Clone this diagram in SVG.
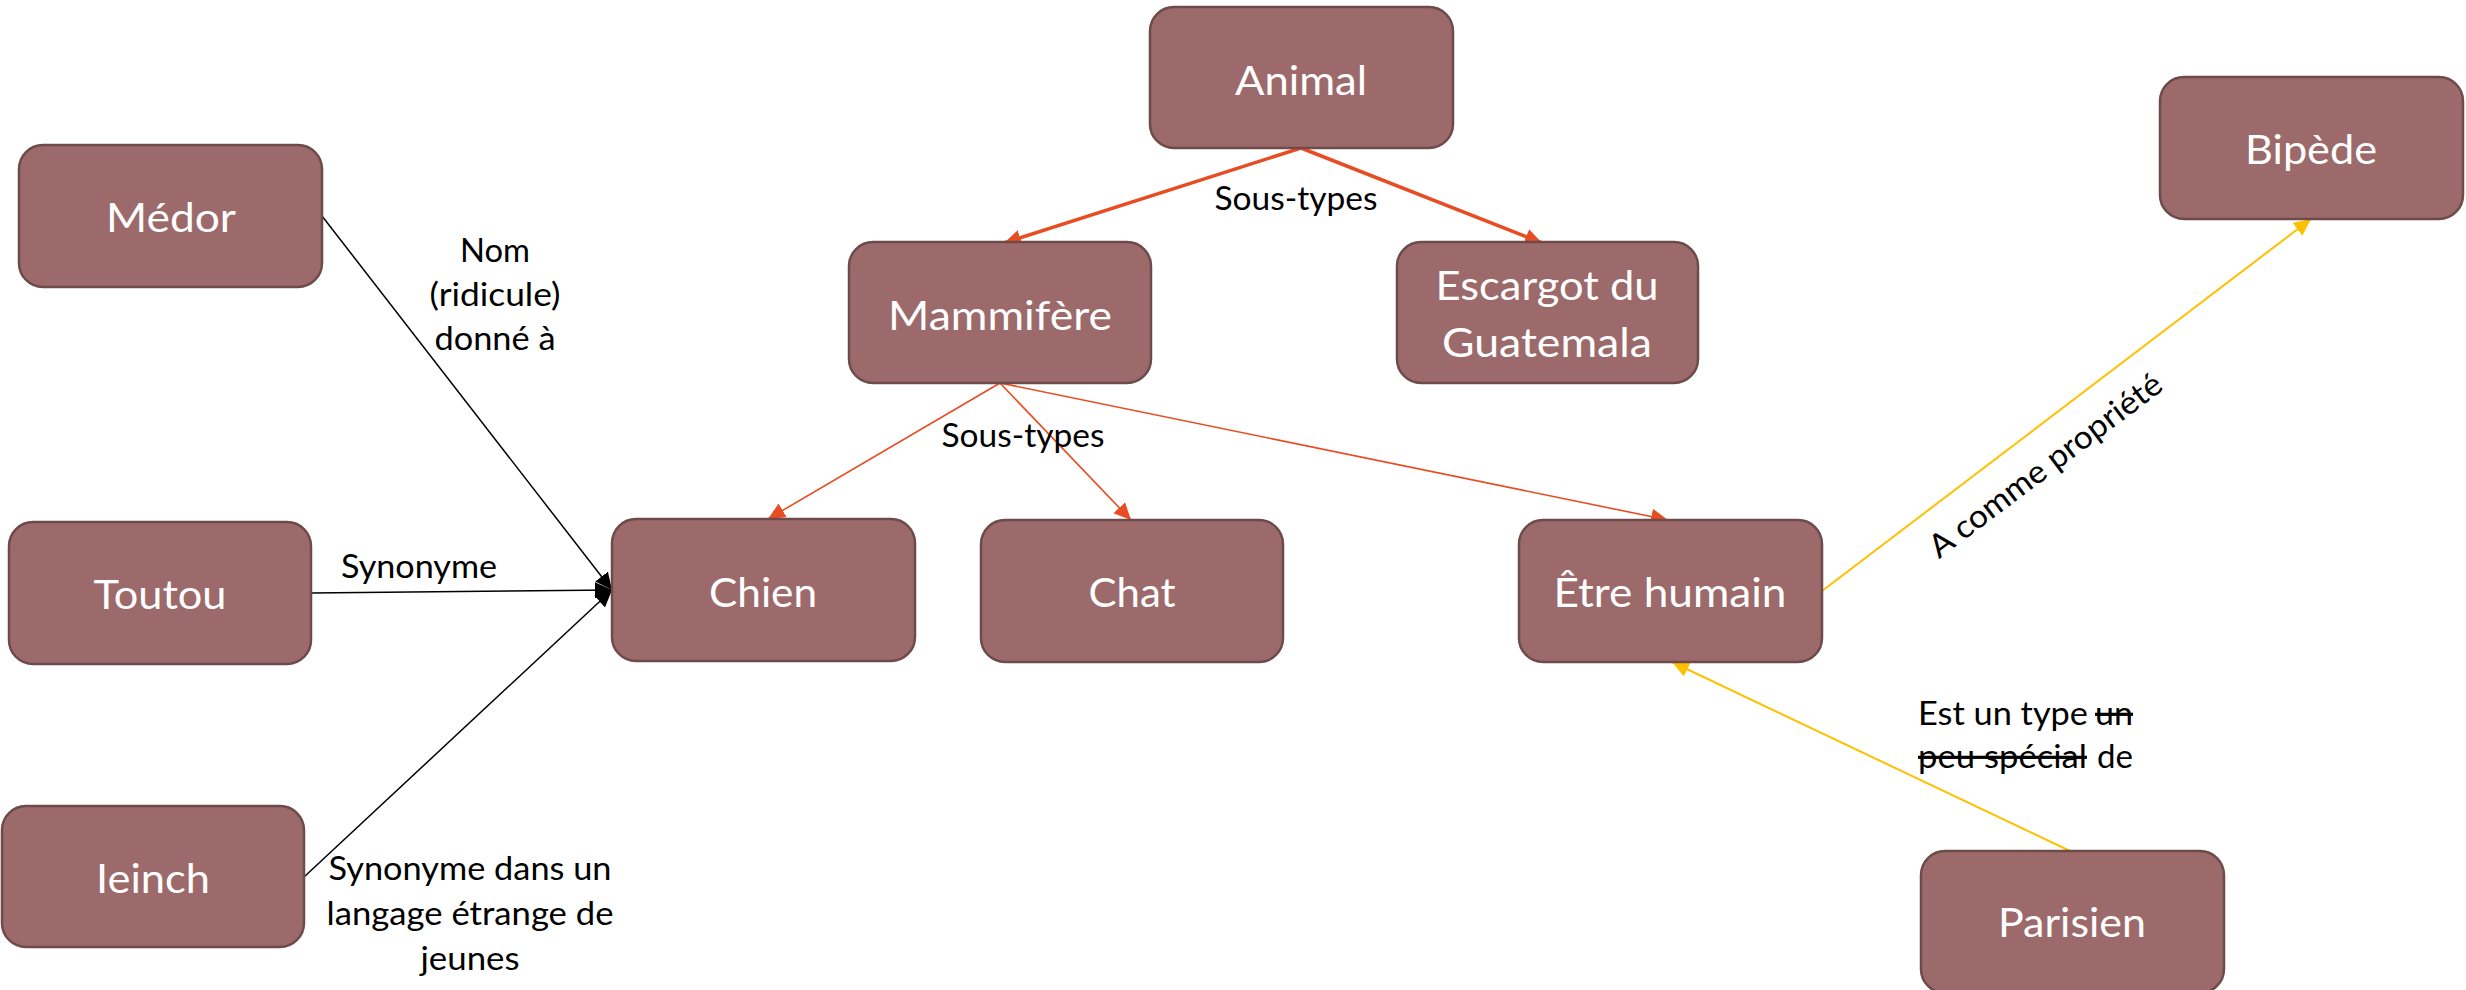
<svg xmlns="http://www.w3.org/2000/svg" width="2466" height="990" viewBox="0 0 2466 990">
<style>
.box{fill:#9C6A6A;stroke:#6E4B4B;stroke-width:2.5}
.nt{font-family:Lato,"Liberation Sans",sans-serif;font-size:41px;fill:#FFFFFF;text-anchor:middle}
.lb{font-family:Lato,"Liberation Sans",sans-serif;font-size:32px;fill:#000000;text-anchor:middle}
.ls{font-family:Lato,"Liberation Sans",sans-serif;font-size:32px;fill:#000000;text-anchor:start}
.st{text-decoration:line-through}
.blk{stroke:#000000;stroke-width:1.5;fill:none;marker-end:url(#ab)}
.redT{stroke:#E84C22;stroke-width:3.5;fill:none;marker-end:url(#ar)}
.red{stroke:#E84C22;stroke-width:1.6;fill:none;marker-end:url(#ar)}
.yel{stroke:#FFC000;stroke-width:2;fill:none;marker-end:url(#ay)}
</style>
<defs>
<marker id="ab" markerUnits="userSpaceOnUse" markerWidth="18" markerHeight="16" refX="17" refY="8" orient="auto"><path d="M0,0 L17,8 L0,16 z" fill="#000000"/></marker>
<marker id="ar" markerUnits="userSpaceOnUse" markerWidth="18" markerHeight="16" refX="17" refY="8" orient="auto"><path d="M0,0 L17,8 L0,16 z" fill="#E84C22"/></marker>
<marker id="ay" markerUnits="userSpaceOnUse" markerWidth="18" markerHeight="16" refX="17" refY="8" orient="auto"><path d="M0,0 L17,8 L0,16 z" fill="#FFC000"/></marker>
</defs>
<rect width="2466" height="990" fill="#FFFFFF"/>
<g id="connectors">
<line class="blk" x1="322" y1="216" x2="612" y2="590"/>
<line class="blk" x1="311" y1="593" x2="612" y2="590"/>
<line class="blk" x1="304" y1="877" x2="612" y2="590"/>
<line class="redT" x1="1301" y1="148" x2="1004" y2="243"/>
<line class="redT" x1="1301" y1="148" x2="1542" y2="243"/>
<line class="red" x1="1000" y1="383" x2="768" y2="519"/>
<line class="red" x1="1000" y1="383" x2="1131" y2="520"/>
<line class="red" x1="1000" y1="383" x2="1668" y2="520"/>
<line class="yel" x1="1822" y1="591" x2="2311" y2="219"/>
<line class="yel" x1="2070" y1="851" x2="1672" y2="662"/>
<text class="lb" x="1296" y="210" textLength="163" lengthAdjust="spacingAndGlyphs">Sous-types</text>
<text class="lb" x="1023" y="447" textLength="163" lengthAdjust="spacingAndGlyphs">Sous-types</text>
<text class="lb" x="495" y="262" textLength="70" lengthAdjust="spacingAndGlyphs">Nom</text>
<text class="lb" x="495" y="306" textLength="131" lengthAdjust="spacingAndGlyphs">(ridicule)</text>
<text class="lb" x="495" y="350" textLength="121" lengthAdjust="spacingAndGlyphs">donné à</text>
<text class="lb" x="419" y="578" textLength="156" lengthAdjust="spacingAndGlyphs">Synonyme</text>
<text class="lb" x="470" y="880" textLength="283" lengthAdjust="spacingAndGlyphs">Synonyme dans un</text>
<text class="lb" x="470" y="925" textLength="287" lengthAdjust="spacingAndGlyphs">langage étrange de</text>
<text class="lb" x="470" y="970" textLength="99" lengthAdjust="spacingAndGlyphs">jeunes</text>
<text class="lb" x="2052" y="474" textLength="283" lengthAdjust="spacingAndGlyphs" transform="rotate(-37 2052 474)">A comme propriété</text>
<text class="ls" x="1918" y="725" textLength="170" lengthAdjust="spacingAndGlyphs">Est un type</text>
<text class="ls st" x="2095" y="725" textLength="38" lengthAdjust="spacingAndGlyphs">un</text>
<text class="ls st" x="1918" y="768" textLength="169" lengthAdjust="spacingAndGlyphs">peu spécial</text>
<text class="ls" x="2097" y="768" textLength="36" lengthAdjust="spacingAndGlyphs">de</text>
</g>
<g id="animal"><rect class="box" x="1150" y="7" width="303" height="141" rx="24"/><text class="nt" x="1301" y="95" textLength="132" lengthAdjust="spacingAndGlyphs">Animal</text></g>
<g id="medor"><rect class="box" x="19" y="145" width="303" height="142" rx="24"/><text class="nt" x="171" y="232" textLength="130" lengthAdjust="spacingAndGlyphs">Médor</text></g>
<g id="toutou"><rect class="box" x="9" y="522" width="302" height="142" rx="24"/><text class="nt" x="160" y="609" textLength="133" lengthAdjust="spacingAndGlyphs">Toutou</text></g>
<g id="ieinch"><rect class="box" x="2" y="806" width="302" height="141" rx="24"/><text class="nt" x="153" y="893" textLength="114" lengthAdjust="spacingAndGlyphs">Ieinch</text></g>
<g id="chien"><rect class="box" x="612" y="519" width="303" height="142" rx="24"/><text class="nt" x="763" y="607" textLength="108" lengthAdjust="spacingAndGlyphs">Chien</text></g>
<g id="chat"><rect class="box" x="981" y="520" width="302" height="142" rx="24"/><text class="nt" x="1132" y="607" textLength="87" lengthAdjust="spacingAndGlyphs">Chat</text></g>
<g id="etre-humain"><rect class="box" x="1519" y="520" width="303" height="142" rx="24"/><text class="nt" x="1670" y="607" textLength="233" lengthAdjust="spacingAndGlyphs">Être humain</text></g>
<g id="mammifere"><rect class="box" x="849" y="242" width="302" height="141" rx="24"/><text class="nt" x="1000" y="330" textLength="224" lengthAdjust="spacingAndGlyphs">Mammifère</text></g>
<g id="escargot"><rect class="box" x="1397" y="242" width="301" height="141" rx="24"/><text class="nt" x="1547" y="300" textLength="223" lengthAdjust="spacingAndGlyphs">Escargot du</text><text class="nt" x="1547" y="357" textLength="210" lengthAdjust="spacingAndGlyphs">Guatemala</text></g>
<g id="bipede"><rect class="box" x="2160" y="77" width="303" height="142" rx="24"/><text class="nt" x="2311" y="164" textLength="132" lengthAdjust="spacingAndGlyphs">Bipède</text></g>
<g id="parisien"><rect class="box" x="1921" y="851" width="303" height="142" rx="24"/><text class="nt" x="2072" y="937" textLength="148" lengthAdjust="spacingAndGlyphs">Parisien</text></g>
</svg>
